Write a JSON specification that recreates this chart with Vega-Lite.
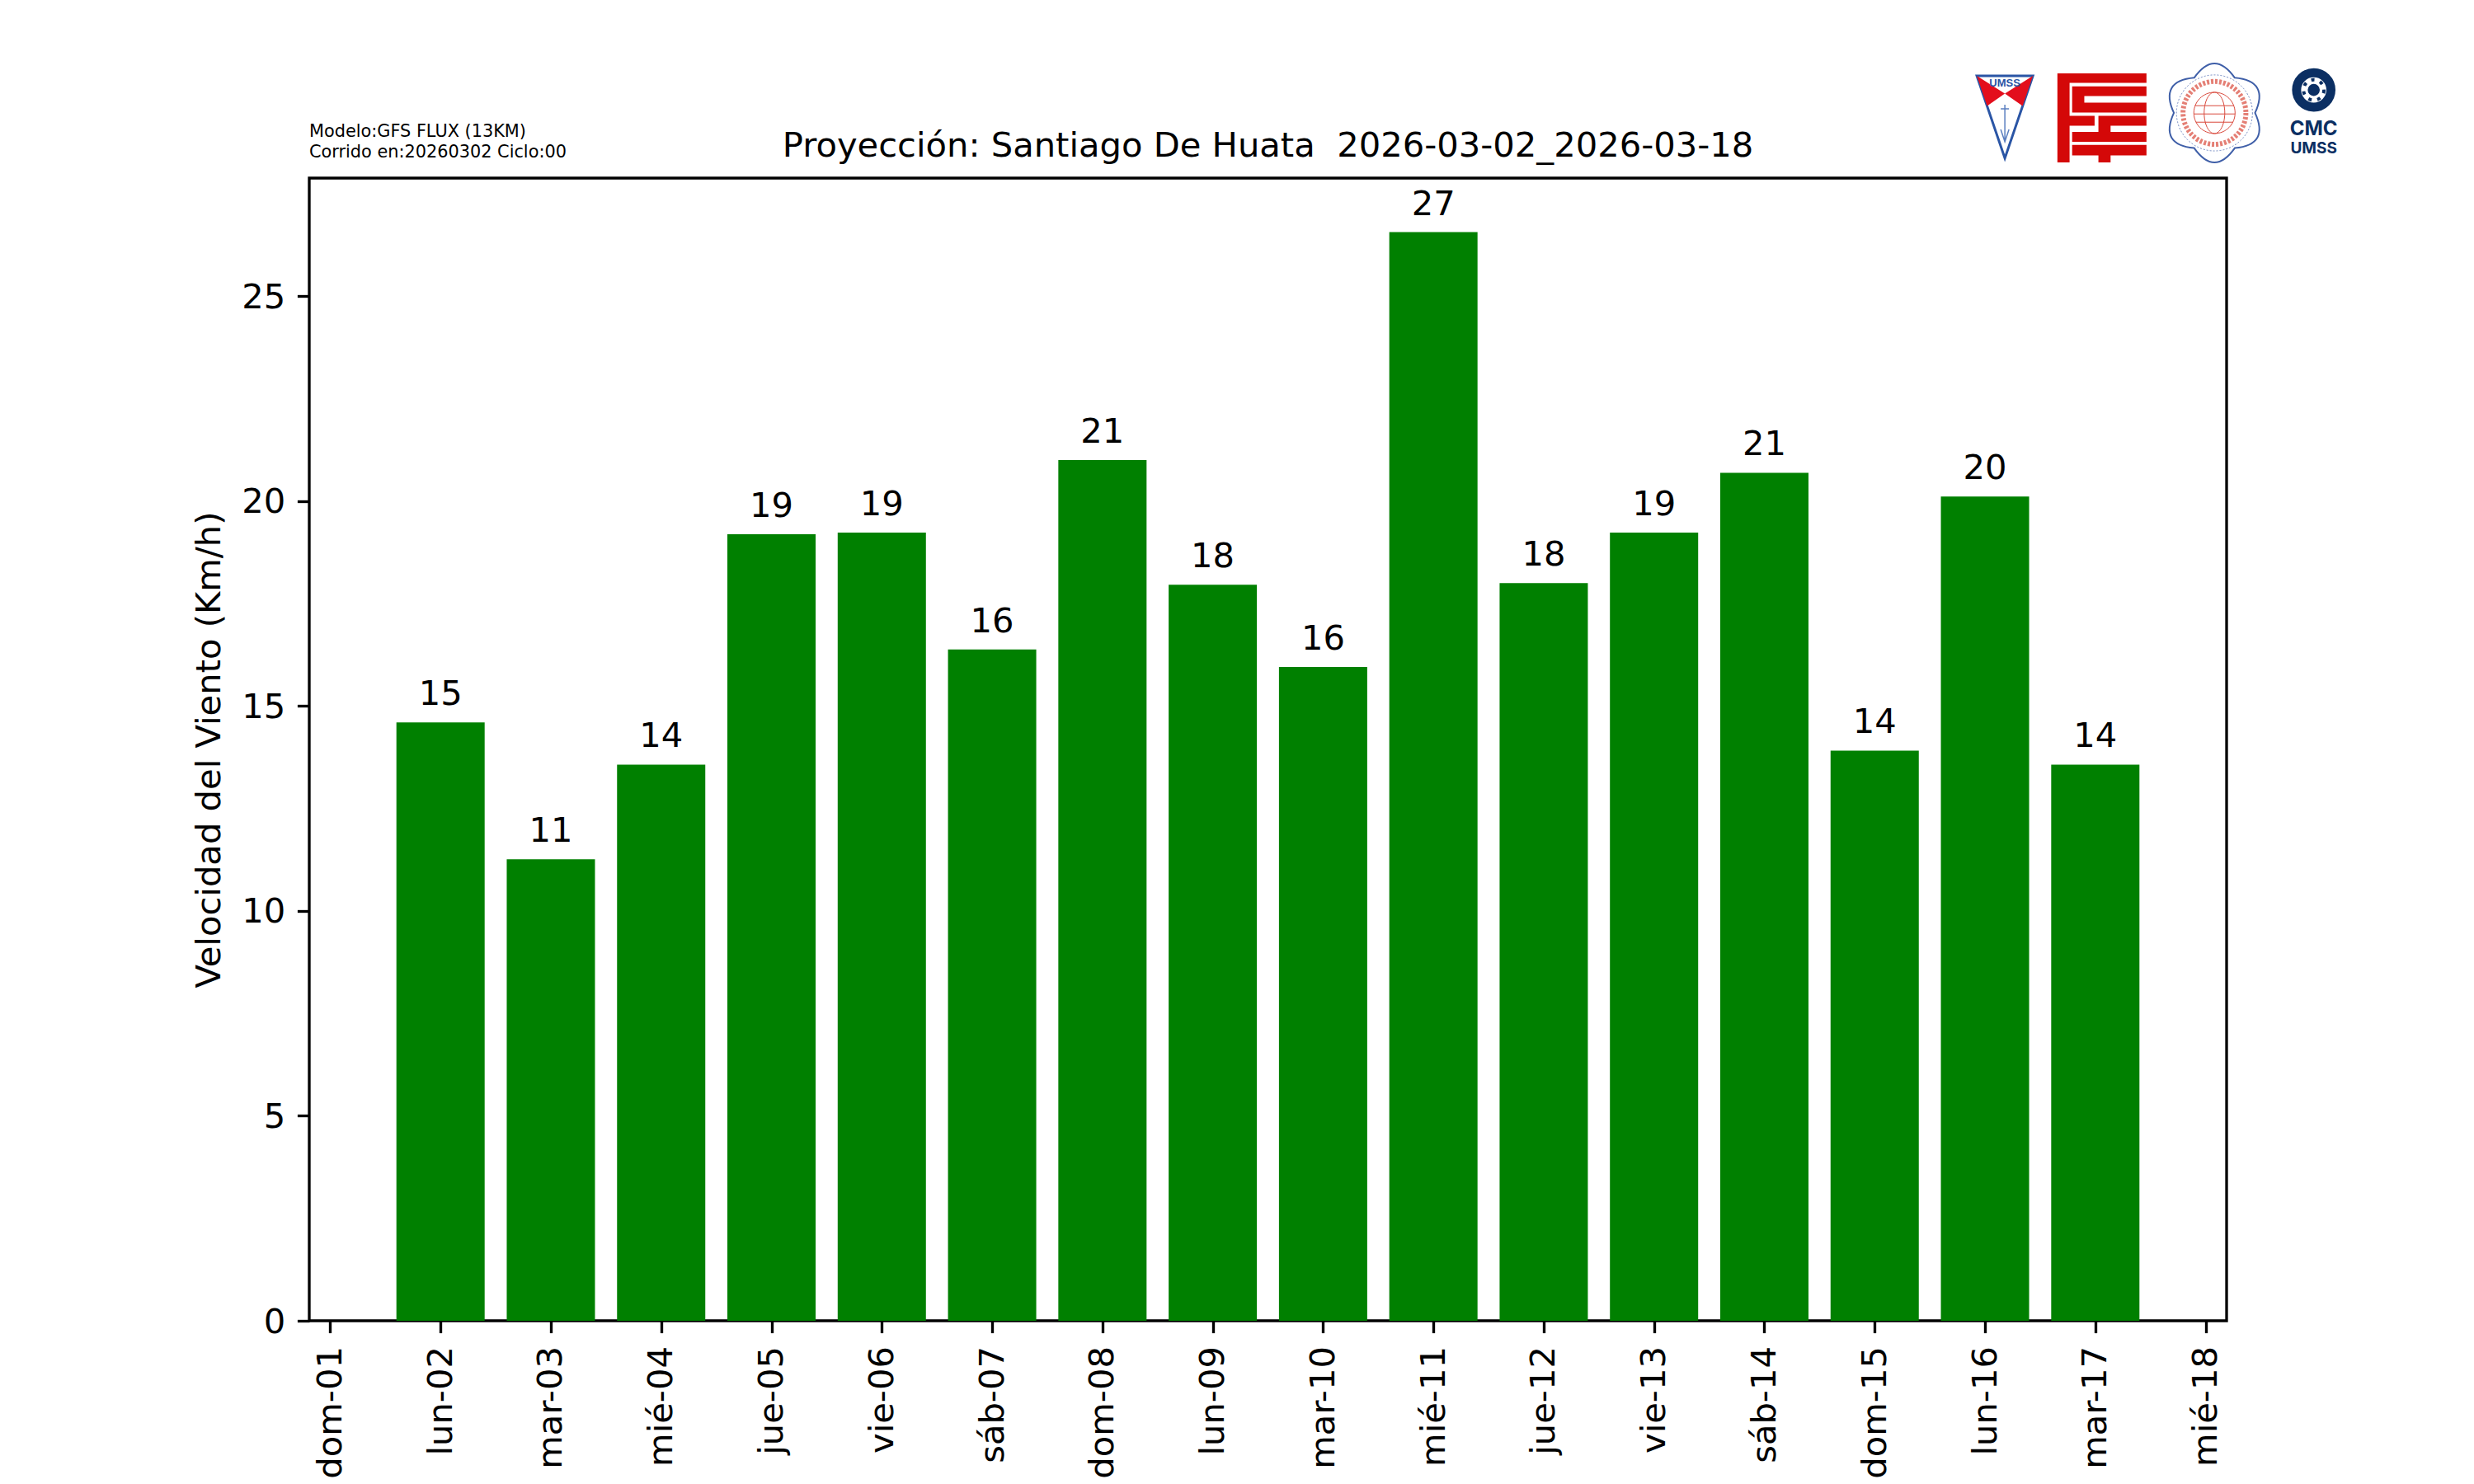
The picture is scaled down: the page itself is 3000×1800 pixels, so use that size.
{
"$schema":"https://vega.github.io/schema/vega-lite/v6.json",
"width":2325,"height":1386,
"autosize":{"type":"none"},
"padding":{"left":375,"top":216,"right":300,"bottom":198},
"background":"white",
"config":{"font":"DejaVu Sans","view":{"stroke":"black","strokeWidth":3.33}},
"title":{"text":"Proyección: Santiago De Huata\u00a0\u00a02026-03-02_2026-03-18","font":"DejaVu Sans","fontSize":41.67,"fontWeight":"normal","color":"black","anchor":"middle","offset":25,"baseline":"bottom","dy":199},
"data":{"values":[
{"dia":2,"velocidad":14.6},{"dia":3,"velocidad":11.26},{"dia":4,"velocidad":13.57},{"dia":5,"velocidad":19.19},
{"dia":6,"velocidad":19.23},{"dia":7,"velocidad":16.38},{"dia":8,"velocidad":21.0},{"dia":9,"velocidad":17.96},
{"dia":10,"velocidad":15.95},{"dia":11,"velocidad":26.56},{"dia":12,"velocidad":18.0},{"dia":13,"velocidad":19.23},
{"dia":14,"velocidad":20.69},{"dia":15,"velocidad":13.91},{"dia":16,"velocidad":20.11},{"dia":17,"velocidad":13.57}
]},
"layer":[
{"mark":{"type":"bar","size":107,"color":"#008000"},
 "encoding":{
  "x":{"field":"dia","type":"quantitative","scale":{"domain":[0.81,18.19],"nice":false,"zero":false,"padding":0},
   "axis":{"values":[1,2,3,4,5,6,7,8,9,10,11,12,13,14,15,16,17,18],"title":null,"grid":false,"domain":false,"tickColor":"black","tickWidth":3.33,"tickSize":14.6,"labelPadding":16,"labelAngle":270,"labelAlign":"right","labelBaseline":"middle","labelFontSize":41.67,"labelColor":"black","labelFont":"DejaVu Sans","labelOverlap":false,"labelBound":false,"labelFlush":false,
   "labelExpr":"['dom-01','lun-02','mar-03','mié-04','jue-05','vie-06','sáb-07','dom-08','lun-09','mar-10','mié-11','jue-12','vie-13','sáb-14','dom-15','lun-16','mar-17','mié-18'][datum.value-1]"}},
  "y":{"field":"velocidad","type":"quantitative","scale":{"domain":[0,27.88],"nice":false},
   "axis":{"values":[0,5,10,15,20,25],"title":"Velocidad del Viento (Km/h)","grid":false,"domain":false,"tickColor":"black","tickWidth":3.33,"tickSize":14.6,"labelPadding":14.6,"labelOffset":1,"labelFontSize":41.67,"labelColor":"black","labelFont":"DejaVu Sans","titleFont":"DejaVu Sans","titleFontSize":41.67,"titleFontWeight":"normal","titleColor":"black","titlePadding":17.6}}
 }},
{"mark":{"type":"text","font":"DejaVu Sans","fontSize":41.67,"color":"black","baseline":"alphabetic","align":"center","dy":-21},
 "encoding":{
  "x":{"field":"dia","type":"quantitative","scale":{"domain":[0.81,18.19],"nice":false,"zero":false,"padding":0}},
  "y":{"field":"velocidad","type":"quantitative","scale":{"domain":[0,27.88],"nice":false}},
  "text":{"field":"velocidad","type":"quantitative","format":".0f"}
 }},
{"data":{"values":[{}]},
 "encoding":{"x":{"datum":0.81,"type":"quantitative","scale":{"domain":[0.81,18.19],"nice":false,"zero":false,"padding":0}}},
 "layer":[
  {"mark":{"type":"text","font":"DejaVu Sans","fontSize":20.83,"color":"black","align":"left","baseline":"middle","text":"Modelo:GFS FLUX (13KM)"},
   "encoding":{"y":{"datum":29.0,"type":"quantitative","scale":{"domain":[0,27.88],"nice":false}}}},
  {"mark":{"type":"text","font":"DejaVu Sans","fontSize":20.83,"color":"black","align":"left","baseline":"middle","text":"Corrido en:20260302 Ciclo:00"},
   "encoding":{"y":{"datum":28.5,"type":"quantitative","scale":{"domain":[0,27.88],"nice":false}}}}
 ]},
{"data":{"values":[{}]},
 "encoding":{
  "x":{"datum":16.18,"type":"quantitative","scale":{"domain":[0.81,18.19],"nice":false,"zero":false,"padding":0}},
  "y":{"datum":29.37,"type":"quantitative","scale":{"domain":[0,27.88],"nice":false}}},
 "layer":[
  {"mark":{"type":"point","shape":"M-.68 -1L.68 -1L0 1Z","size":10000,"fill":"white","fillOpacity":1,"stroke":"#2a55a5","strokeWidth":3,"opacity":1}},
  {"mark":{"type":"point","shape":"M-.68 -1L0 -.57L-.43 -.27ZM.68 -1L0 -.57L.43 -.27Z","size":10000,"fill":"#e30e1c","fillOpacity":1,"strokeWidth":0,"opacity":1}},
  {"mark":{"type":"point","shape":"M0 -.3L0 .6M-.1 .3L0 .6L.1 .3M-.1 -.2L.1 -.2","size":10000,"fill":null,"stroke":"#5b7fc0","strokeWidth":1.5,"opacity":1}}
 ]},
{"data":{"values":[{}]},
 "mark":{"type":"text","font":"Liberation Sans","fontWeight":"bold","fontSize":13,"color":"#2a55a5","baseline":"middle","align":"center","text":"UMSS"},
 "encoding":{
  "x":{"datum":16.18,"type":"quantitative","scale":{"domain":[0.81,18.19],"nice":false,"zero":false,"padding":0}},
  "y":{"datum":30.2,"type":"quantitative","scale":{"domain":[0,27.88],"nice":false}}}},
{"data":{"values":[{}]},
 "mark":{"type":"point","shape":"M-1 -1H1V-.785H-.727V-.044H-.165V.177H-.727V1H-1ZM-.669 -.709H1V-.487H-.396V-.342H1V-.12H-.669ZM-.079 -.044H1V.177H.194V.316H1V.538H-.669V.316H-.079ZM-.669 .608H1V.842H.194V1H-.079V.842H-.669Z","size":11664,"fill":"#d40808","fillOpacity":1,"strokeWidth":0,"opacity":1},
 "encoding":{
  "x":{"datum":17.06,"type":"quantitative","scale":{"domain":[0.81,18.19],"nice":false,"zero":false,"padding":0}},
  "y":{"datum":29.35,"type":"quantitative","scale":{"domain":[0,27.88],"nice":false}}}},
{"data":{"values":[{}]},
 "encoding":{
  "x":{"datum":18.08,"type":"quantitative","scale":{"domain":[0.81,18.19],"nice":false,"zero":false,"padding":0}},
  "y":{"datum":29.47,"type":"quantitative","scale":{"domain":[0,27.88],"nice":false}}},
 "layer":[
  {"mark":{"type":"point","shape":"M-.41 -.71Q0 -1.29 .41 -.71Q1.117 -.645 .82 0Q1.117 .645 .41 .71Q0 1.29 -.41 .71Q-1.117 .645 -.82 0Q-1.117 -.645 -.41 -.71Z","size":14400,"fill":"white","fillOpacity":1,"stroke":"#3f5fa8","strokeWidth":2,"opacity":1}},
  {"mark":{"type":"point","shape":"circle","size":8495,"fill":null,"stroke":"#6f86c0","strokeWidth":1,"strokeDash":[2,2],"opacity":1}},
  {"mark":{"type":"point","shape":"circle","size":5809,"fill":null,"stroke":"#d9483b","strokeWidth":6,"strokeDash":[3,2],"strokeOpacity":0.7,"opacity":1}},
  {"mark":{"type":"point","shape":"M0 -1A1 1 0 0 1 0 1A1 1 0 0 1 0 -1M0 -1A.5 1 0 0 0 0 1A.5 1 0 0 0 0 -1M-.95 -.35L.95 -.35M-1 .05L1 .05M-.9 .45L.9 .45","size":2500,"fill":null,"stroke":"#d9483b","strokeWidth":1,"opacity":1}}
 ]},
{"data":{"values":[{}]},
 "encoding":{
  "x":{"datum":18.98,"type":"quantitative","scale":{"domain":[0.81,18.19],"nice":false,"zero":false,"padding":0}},
  "y":{"datum":30.03,"type":"quantitative","scale":{"domain":[0,27.88],"nice":false}}},
 "layer":[
  {"mark":{"type":"point","shape":"circle","size":1735,"fill":null,"stroke":"#0b2f63","strokeWidth":11,"opacity":1}},
  {"mark":{"type":"point","shape":"circle","size":616,"fill":null,"stroke":"#0b2f63","strokeWidth":4,"strokeDash":[4,7],"opacity":1}},
  {"mark":{"type":"point","shape":"circle","size":160,"fill":"#0b2f63","fillOpacity":1,"stroke":"#0b2f63","strokeWidth":2,"opacity":1}}
 ]},
{"data":{"values":[{}]},
 "mark":{"type":"text","font":"Inter","fontWeight":"bold","fontSize":24,"color":"#0b2f63","baseline":"middle","align":"center","text":"CMC"},
 "encoding":{
  "x":{"datum":18.98,"type":"quantitative","scale":{"domain":[0.81,18.19],"nice":false,"zero":false,"padding":0}},
  "y":{"datum":29.07,"type":"quantitative","scale":{"domain":[0,27.88],"nice":false}}}},
{"data":{"values":[{}]},
 "mark":{"type":"text","font":"Inter","fontWeight":"bold","fontSize":19,"color":"#0b2f63","baseline":"middle","align":"center","text":"UMSS"},
 "encoding":{
  "x":{"datum":18.98,"type":"quantitative","scale":{"domain":[0.81,18.19],"nice":false,"zero":false,"padding":0}},
  "y":{"datum":28.6,"type":"quantitative","scale":{"domain":[0,27.88],"nice":false}}}}
]
}
